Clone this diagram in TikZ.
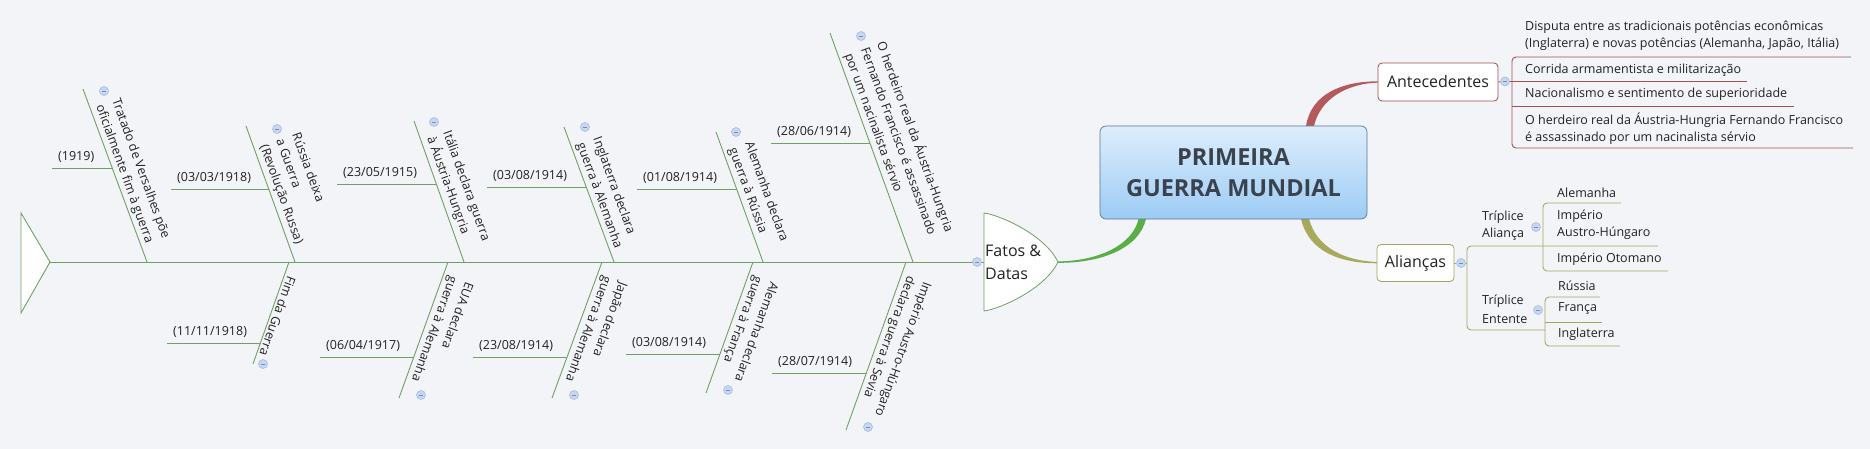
\documentclass[tikz,border=0pt]{standalone}
\usepackage{fontspec}
\setmainfont{Open Sans}
\usetikzlibrary{calc}
\definecolor{bg}{HTML}{F3F4F8}
\definecolor{bonecol}{HTML}{70A064}
\definecolor{greenc}{HTML}{5AAE48}
\definecolor{redc}{HTML}{B45A5C}
\definecolor{antline}{HTML}{A05052}
\definecolor{olivec}{HTML}{A9A95C}
\definecolor{aliline}{HTML}{A4A760}
\definecolor{boxdraw}{HTML}{5A7590}
\definecolor{boxtop}{HTML}{DDEEFD}
\definecolor{boxbot}{HTML}{9CCBF4}
\definecolor{titlec}{HTML}{3A434D}
\definecolor{txt}{HTML}{222222}
\definecolor{iconfill}{HTML}{C7D7F1}
\definecolor{icondraw}{HTML}{9DB4DE}
\definecolor{iconminus}{HTML}{6F8FC6}
\newcommand\fsz[2]{\fontsize{#1}{#2}\selectfont}
\begin{document}
\begin{tikzpicture}[x=1pt,y=-1pt,
  bone/.style={draw=bonecol, line width=0.9pt},
  boneT/.style={rotate=-70, anchor=south west, inner xsep=21pt, inner ysep=3pt, align=left, font=\fsz{12.5}{17}, text=txt},
  boneB/.style={rotate=-110, anchor=south west, inner xsep=12pt, inner ysep=3pt, align=left, font=\fsz{12.5}{17}, text=txt},
  datelbl/.style={anchor=south west, inner sep=0pt, font=\fsz{12.5}{15}, text=txt},
  icon/.style={circle, draw=icondraw, fill=iconfill, line width=0.5pt, minimum size=9pt, inner sep=0pt,
    path picture={\draw[iconminus, line width=0.6pt] ([xshift=-2.2pt]path picture bounding box.center) -- ([xshift=2.2pt]path picture bounding box.center);}},
  item/.style={anchor=west, inner sep=0pt, align=left, font=\fsz{12.5}{17}, text=txt},
  antl/.style={draw=antline, line width=0.9pt},
  alil/.style={draw=aliline, line width=0.9pt},
]
\useasboundingbox (0,0) rectangle (1870,449);
\fill[bg] (0,0) rectangle (1870,449);

% ---------- spine and tail ----------
\coordinate (tail) at (50,262);
\coordinate (head) at (984,262);
\draw[bone] (tail) -- (head);
\draw[bone, fill=white] (21,213) -- (tail) -- (21,313) -- cycle;

% ---------- top bones ----------
% 1
\coordinate (t1) at (83,89); \coordinate (s1) at (147,262);
\draw[bone] (t1) -- (s1);
\coordinate (d1a) at (52,168); \coordinate (d1b) at (113,168);
\draw[bone] (d1a) -- (d1b);
\node[datelbl] (dl1) at ($(d1a)+(6,-5)$) {(1919)};
\node[boneT] (bt1) at (t1) {Tratado de Versalhes põe\\oficialmente fim à guerra};
\node[icon] (i1) at (104,91) {};
% 2
\coordinate (t2) at (246,126); \coordinate (s2) at (295,262);
\draw[bone] (t2) -- (s2);
\coordinate (d2a) at (171,189); \coordinate (d2b) at (269,189);
\draw[bone] (d2a) -- (d2b);
\node[datelbl] (dl2) at ($(d2a)+(6,-5)$) {(03/03/1918)};
\node[boneT, inner xsep=24pt] (bt2) at (t2) {Rússia deixa\\a Guerra\\(Revolução Russa)};
\node[icon] (i2) at (277,129) {};
% 3
\coordinate (t3) at (414,121); \coordinate (s3) at (464,262);
\draw[bone] (t3) -- (s3);
\coordinate (d3a) at (337,184); \coordinate (d3b) at (436,184);
\draw[bone] (d3a) -- (d3b);
\node[datelbl] (dl3) at ($(d3a)+(6,-5)$) {(23/05/1915)};
\node[boneT] (bt3) at (t3) {Itália declara guerra\\à Áustria-Hungria};
\node[icon] (i3) at (434,122) {};
% 4
\coordinate (t4) at (564,127); \coordinate (s4) at (614,262);
\draw[bone] (t4) -- (s4);
\coordinate (d4a) at (487,187); \coordinate (d4b) at (586,187);
\draw[bone] (d4a) -- (d4b);
\node[datelbl] (dl4) at ($(d4a)+(6,-5)$) {(03/08/1914)};
\node[boneT] (bt4) at (t4) {Inglaterra declara\\guerra à Alemanha};
\node[icon] (i4) at (585,127) {};
% 5
\coordinate (t5) at (716,132); \coordinate (s5) at (763,262);
\draw[bone] (t5) -- (s5);
\coordinate (d5a) at (637,189); \coordinate (d5b) at (737,189);
\draw[bone] (d5a) -- (d5b);
\node[datelbl] (dl5) at ($(d5a)+(6,-5)$) {(01/08/1914)};
\node[boneT] (bt5) at (t5) {Alemanha declara\\guerra à Rússia};
\node[icon] (i5) at (736,132) {};
% 6
\coordinate (t6) at (830,33); \coordinate (s6) at (913,262);
\draw[bone] (t6) -- (s6);
\coordinate (d6a) at (771,143); \coordinate (d6b) at (870,143);
\draw[bone] (d6a) -- (d6b);
\node[datelbl] (dl6) at ($(d6a)+(6,-5)$) {(28/06/1914)};
\node[boneT, inner xsep=26pt] (bt6) at (t6) {O herdeiro real da Áustria-Hungria\\Fernando Francisco é assassinado\\por um nacinalista sérvio};
\node[icon] (i6) at (861,36) {};

% ---------- bottom bones ----------
% b1
\coordinate (u1) at (289,262); \coordinate (e1) at (253,364);
\draw[bone] (u1) -- (e1);
\coordinate (f1a) at (167,343); \coordinate (f1b) at (261,343);
\draw[bone] (f1a) -- (f1b);
\node[datelbl] (fl1) at ($(f1a)+(6,-5)$) {(11/11/1918)};
\node[boneB, inner xsep=13pt] (bb1) at (u1) {Fim da Guerra};
\node[icon] (j1) at (263,364) {};
% b2
\coordinate (u2) at (448,262); \coordinate (e2) at (399,398);
\draw[bone] (u2) -- (e2);
\coordinate (f2a) at (320,357); \coordinate (f2b) at (414,357);
\draw[bone] (f2a) -- (f2b);
\node[datelbl] (fl2) at ($(f2a)+(6,-5)$) {(06/04/1917)};
\node[boneB] (bb2) at (u2) {EUA declara\\guerra à Alemanha};
\node[icon] (j2) at (421,395) {};
% b3
\coordinate (u3) at (602,262); \coordinate (e3) at (552,398);
\draw[bone] (u3) -- (e3);
\coordinate (f3a) at (473,357); \coordinate (f3b) at (567,357);
\draw[bone] (f3a) -- (f3b);
\node[datelbl] (fl3) at ($(f3a)+(6,-5)$) {(23/08/1914)};
\node[boneB] (bb3) at (u3) {Japão declara\\guerra à Alemanha};
\node[icon] (j3) at (574,395) {};
% b4
\coordinate (u4) at (753,262); \coordinate (e4) at (706,393);
\draw[bone] (u4) -- (e4);
\coordinate (f4a) at (626,354); \coordinate (f4b) at (720,354);
\draw[bone] (f4a) -- (f4b);
\node[datelbl] (fl4) at ($(f4a)+(6,-5)$) {(03/08/1914)};
\node[boneB] (bb4) at (u4) {Alemanha declara\\guerra à França};
\node[icon] (j4) at (728,390) {};
% b5
\coordinate (u5) at (906,262); \coordinate (e5) at (846,430);
\draw[bone] (u5) -- (e5);
\coordinate (f5a) at (772,373); \coordinate (f5b) at (866,373);
\draw[bone] (f5a) -- (f5b);
\node[datelbl] (fl5) at ($(f5a)+(6,-5)$) {(28/07/1914)};
\node[boneB] (bb5) at (u5) {Império Austro-Húngaro\\declara guerra à Sevia};
\node[icon] (j5) at (868,427) {};

% ---------- Fatos & Datas head ----------
\coordinate (tip) at (1058,262);
\draw[draw=bonecol, line width=0.8pt, fill=white] (984,213) .. controls (1000,215) and (1045,235) .. (tip)
  .. controls (1045,289) and (1000,309) .. (984,311) -- cycle;
\node[anchor=west, inner sep=0pt, align=left, font=\fsz{16}{23}, text=txt] (fatos) at (985,262.5) {Fatos \&\\Datas};
\node[icon] (ispine) at (977,262) {};

% ---------- main connectors (tapered) ----------
\fill[greenc] (1058,261.4) .. controls (1100,261) and (1133,244) .. (1138.5,219)
  -- (1146,219) .. controls (1139,249) and (1100,263.2) .. (1058,262.8) -- cycle;
\fill[redc] (1306,126) .. controls (1311,94) and (1342,81.3) .. (1378,81.3)
  -- (1378,82.6) .. controls (1347,83.5) and (1320,99) .. (1314,126) -- cycle;
\fill[olivec] (1301,219) .. controls (1309,252) and (1340,263.3) .. (1378,263.3)
  -- (1378,262) .. controls (1345,261) and (1317,248) .. (1309,219) -- cycle;

% ---------- central topic ----------
\node[draw=boxdraw, line width=0.7pt, rounded corners=6pt, top color=boxtop, bottom color=boxbot,
  minimum width=267pt, minimum height=93pt, inner sep=0pt, align=center,
  font=\bfseries\fsz{23.5}{31}, text=titlec] (main) at (1233.5,172.5) {PRIMEIRA\\GUERRA MUNDIAL};

% ---------- Antecedentes ----------
\node[draw=antline, line width=0.8pt, rounded corners=4pt, fill=white, minimum width=120pt, minimum height=38pt,
  inner sep=0pt, font=\fsz{16}{20}, text=txt] (ant) at (1438,82) {Antecedentes};
\node[icon] (iA) at (1505,81.5) {};
\coordinate (aJ) at (1512,81.5);
\draw[antl] (ant.east) -- (iA) -- (aJ);
\draw[antl, rounded corners=4pt] (1851,57) -- (1512,57) -- (1512,148) -- (1853,148);
\draw[antl] (aJ) -- (1747,81.5);
\draw[antl] (1512,106) -- (1794,106);
\node[item] (a1) at (1525,35.5) {Disputa entre as tradicionais potências econômicas\\(Inglaterra) e novas potências (Alemanha, Japão, Itália)};
\node[item] (a2) at (1525,70) {Corrida armamentista e militarização};
\node[item] (a3) at (1525,94) {Nacionalismo e sentimento de superioridade};
\node[item] (a4) at (1525,129) {O herdeiro real da Áustria-Hungria Fernando Francisco\\é assassinado por um nacinalista sérvio};

% ---------- Aliancas ----------
\node[draw=aliline, line width=0.8pt, rounded corners=4pt, fill=white, minimum width=77pt, minimum height=37pt,
  inner sep=0pt, font=\fsz{16}{20}, text=txt] (ali) at (1415.5,263) {Alianças};
\node[icon] (iB) at (1461,263) {};
\coordinate (bJ) at (1467,263);
\draw[alil] (ali.east) -- (iB) -- (bJ);
\draw[alil, rounded corners=4pt] (1658,246) -- (1467,246) -- (1467,330) -- (1545,330);
\draw[alil, rounded corners=4pt] (1621,203) -- (1543,203) -- (1543,271) -- (1668,271);
\draw[alil, rounded corners=4pt] (1600,297) -- (1545,297) -- (1545,346) -- (1620,346);
\draw[alil] (1545,322) -- (1602,322);
\node[item] (ta) at (1482,225.5) {Tríplice\\Aliança};
\node[icon] (iTA) at (1536,227) {};
\node[item] (c1) at (1557,193) {Alemanha};
\node[item] (c2) at (1557,225) {Império\\Austro-Húngaro};
\node[item] (c3) at (1557,259) {Império Otomano};
\node[item, font=\fsz{12.5}{19}] (te) at (1482,309.5) {Tríplice\\Entente};
\node[icon] (iTE) at (1538,310) {};
\node[item] (c4) at (1558,286) {Rússia};
\node[item] (c5) at (1558,309) {França};
\node[item] (c6) at (1558,334) {Inglaterra};
\end{tikzpicture}
\end{document}
